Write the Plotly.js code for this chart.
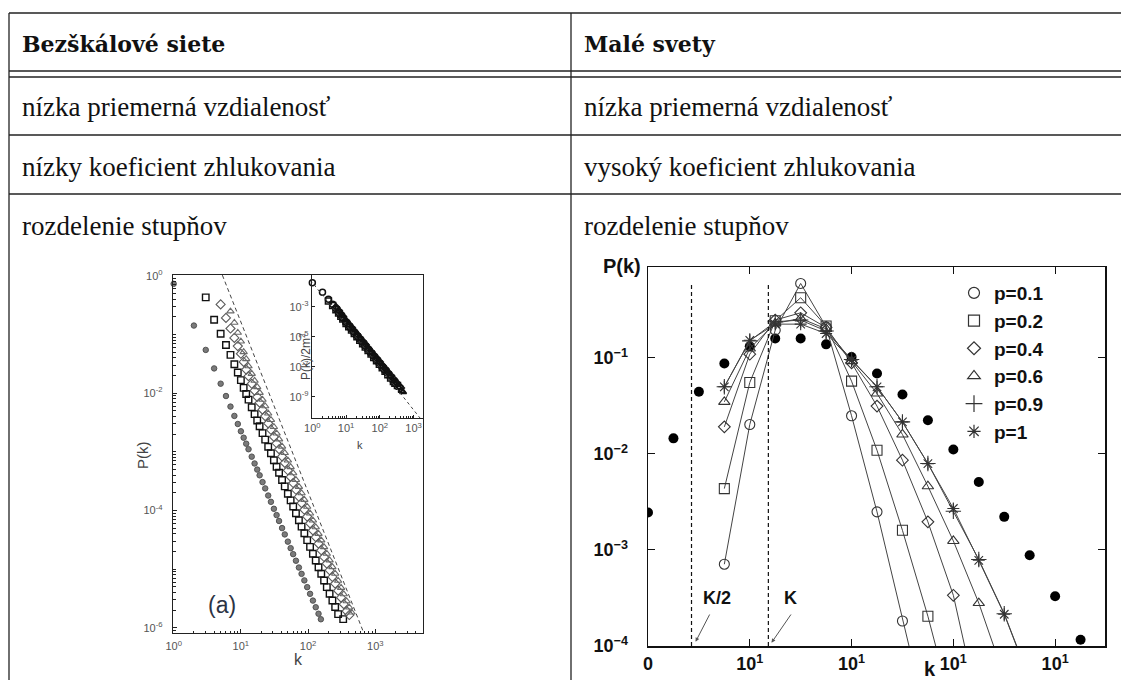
<!DOCTYPE html>
<html><head><meta charset="utf-8">
<script src="https://cdn.plot.ly/plotly-3.0.1.min.js"></script>
<style>html,body{margin:0;padding:0;background:#fff;}#chart{width:1121px;height:680px;}</style>
</head><body><div id="chart"></div>
<script>
// ---------- table texts ----------
const headers = ['Bezškálové siete', 'Malé svety'];
const rowsLeft = ['nízka priemerná vzdialenosť', 'nízky koeficient zhlukovania', 'rozdelenie stupňov'];
const rowsRight = ['nízka priemerná vzdialenosť', 'vysoký koeficient zhlukovania', 'rozdelenie stupňov'];

// ---------- left chart (scale-free), log10 P(k) ----------
const sfK_m1 = [1,2,3,4,5,6,7,8,9,10,11,12,13,14.5,16,17.5,19,21,23,25.5,28,31,34,37,41,45,50,55,60,66,73,80,88,97,107,118,130,143,155];
const sfLogP_m1 = [-0.14,-0.85,-1.265,-1.58,-1.84,-2.05,-2.23,-2.389,-2.526,-2.650,-2.760,-2.862,-2.956,-3.083,-3.199,-3.303,-3.400,-3.516,-3.623,-3.745,-3.852,-3.971,-4.078,-4.178,-4.299,-4.407,-4.530,-4.641,-4.743,-4.855,-4.971,-5.079,-5.190,-5.305,-5.419,-5.534,-5.647,-5.758,-5.852];
const sfK_m3 = [3,4,5,6,7,8,9,10,11,12,13,14.5,16,17.5,19,21,23,25.5,28,31,34,37,41,45,50,55,60,66,73,80,88,97,107,118,130,143,157,173,190,209,230,253,280,333];
const sfLogP_m3 = [-0.37,-0.75,-0.99,-1.18,-1.35,-1.51,-1.65,-1.78,-1.912,-2.016,-2.112,-2.241,-2.359,-2.466,-2.564,-2.682,-2.792,-2.915,-3.025,-3.145,-3.255,-3.356,-3.480,-3.589,-3.715,-3.828,-3.932,-4.047,-4.165,-4.274,-4.387,-4.504,-4.619,-4.737,-4.852,-4.965,-5.077,-5.192,-5.304,-5.417,-5.532,-5.644,-5.765,-5.85];
const sfK_m5 = [5,6,7,8,9,10,11,12,13,14.5,16,17.5,19,21,23,25.5,28,31,34,37,41,45,50,55,60,66,73,80,88,97,107,118,130,143,157,173,190,209,230,253,280,310,340,375,410];
const sfLogP_m5 = [-0.49,-0.72,-0.90,-1.06,-1.20,-1.33,-1.47,-1.60,-1.712,-1.841,-1.959,-2.066,-2.164,-2.282,-2.392,-2.515,-2.625,-2.745,-2.855,-2.956,-3.080,-3.189,-3.315,-3.428,-3.532,-3.647,-3.765,-3.874,-3.987,-4.104,-4.219,-4.337,-4.452,-4.565,-4.677,-4.792,-4.904,-5.017,-5.132,-5.244,-5.365,-5.485,-5.595,-5.713,-5.78];
const sfK_m7 = [7,8,9,10,11,12,13,14.5,16,17.5,19,21,23,25.5,28,31,34,37,41,45,50,55,60,66,73,80,88,97,107,118,130,143,157,173,190,209,230,253,280,310,340,375,410,443];
const sfLogP_m7 = [-0.607,-0.80,-0.97,-1.12,-1.30,-1.42,-1.542,-1.671,-1.789,-1.896,-1.994,-2.112,-2.222,-2.345,-2.455,-2.575,-2.685,-2.786,-2.910,-3.019,-3.145,-3.258,-3.362,-3.477,-3.595,-3.704,-3.817,-3.934,-4.049,-4.167,-4.282,-4.395,-4.507,-4.622,-4.734,-4.847,-4.962,-5.074,-5.195,-5.315,-5.425,-5.543,-5.649,-5.735];
const sfGuideK = [5.3, 690];
const sfGuideP = [1.02, 7.7e-7];

// inset: P(k)/2m^2
const inK_m1 = [1,2,3,4,5,6,7,8,10,12,14.5,17.5,21,25.5,31,37,45,55,66,80,97,118,143,155];
const inLogP_m1 = [-1.40,-2.04,-2.51,-2.84,-3.12,-3.35,-3.56,-3.75,-4.04,-4.26,-4.48,-4.71,-4.93,-5.16,-5.39,-5.60,-5.84,-6.08,-6.30,-6.52,-6.75,-6.99,-7.22,-7.31];
const inK_m3 = [3,4,5,6,7,8,10,12,14.5,17.5,21,25.5,31,37,45,55,66,80,97,118,143,173,209,253,280,333];
const inLogP_m3 = [-2.62,-2.93,-3.20,-3.43,-3.64,-3.83,-4.12,-4.34,-4.56,-4.79,-5.01,-5.24,-5.47,-5.68,-5.92,-6.16,-6.38,-6.60,-6.83,-7.07,-7.30,-7.53,-7.75,-7.98,-8.10,-8.25];
const inK_m5 = [5,6,7,8,10,12,14.5,17.5,21,25.5,31,37,45,55,66,80,97,118,143,173,209,253,310,375,410];
const inLogP_m5 = [-3.06,-3.29,-3.50,-3.69,-3.98,-4.20,-4.42,-4.65,-4.87,-5.10,-5.33,-5.54,-5.78,-6.02,-6.24,-6.46,-6.69,-6.93,-7.16,-7.385,-7.61,-7.84,-8.08,-8.31,-8.42];
const inK_m7 = [7,8,10,12,14.5,17.5,21,25.5,31,37,45,55,66,80,97,118,143,173,209,253,310,375,443,490];
const inLogP_m7 = [-3.59,-3.78,-4.07,-4.29,-4.51,-4.74,-4.96,-5.19,-5.42,-5.63,-5.87,-6.11,-6.33,-6.55,-6.78,-7.02,-7.25,-7.475,-7.70,-7.93,-8.17,-8.40,-8.60,-8.69];
const inGuideK = [0.87, 1585];
const inGuideP = [6.0e-2, 3.6e-11];

// ---------- right chart (small worlds) ----------
const swTickVals = [0, 4, 8, 12, 16];
const swTickText = ['0', '10<sup>1</sup>', '10<sup>1</sup>', '10<sup>1</sup>', '10<sup>1</sup>'];
const swYTickVals = [0.1, 0.01, 0.001, 0.0001];
const swYTickText = ['10<sup>−1</sup>', '10<sup>−2</sup>', '10<sup>−3</sup>', '10<sup>−4</sup>'];
const kRandom = [0,1,2,3,4,5,6,7,8,9,10,11,12,13,14,15,16,17];
const pRandom = [0.00245,0.0145,0.0443,0.0873,0.132,0.159,0.159,0.138,0.102,0.0687,0.0415,0.0224,0.0111,0.0051,0.00221,0.00088,0.000329,0.000116];
const k_p01 = [3,4,5,6,7,8,9,10,11];
const P_p01 = [7.1e-4,0.0202,0.194,0.594,0.21,0.0249,0.00249,1.82e-4,1.5e-5];
const k_p02 = [3,4,5,6,7,8,9,10,11,12];
const P_p02 = [4.35e-3,0.0553,0.243,0.422,0.214,0.0571,0.0109,1.6e-3,2.04e-4,2.0e-5];
const k_p04 = [3,4,5,6,7,8,9,10,11,12,13];
const P_p04 = [0.0191,0.109,0.247,0.294,0.207,0.0887,0.0314,8.59e-3,1.96e-3,3.37e-4,2.2e-5];
const k_p06 = [3,4,5,6,7,8,9,10,11,12,13,14];
const P_p06 = [0.0348,0.125,0.228,0.257,0.2,0.0923,0.0425,0.0159,4.6e-3,1.24e-3,2.8e-4,4.8e-5];
const k_p09 = [3,4,5,6,7,8,9,10,11,12,13,14,15];
const P_p09 = [0.0499,0.150,0.237,0.247,0.19,0.096,0.0499,0.0215,7.94e-3,2.53e-3,7.94e-4,2.17e-4,4.5e-5];
const k_p1 = [3,4,5,6,7,8,9,10,11,12,13,14,15];
const P_p1 = [0.0499,0.152,0.224,0.224,0.179,0.0946,0.0499,0.0215,7.9e-3,2.7e-3,7.8e-4,2.14e-4,4.4e-5];
const swNames = ['p=0.1','p=0.2','p=0.4','p=0.6','p=0.9','p=1'];
const markK_half = 1.71, markK = 4.73;

// ---------- helpers ----------
const W = 1121, H = 680;
const fx = p => p / W;
const fy = p => 1 - p / H;
const pow10 = a => a.map(v => Math.pow(10, v));
const SANS = 'Liberation Sans, Arial, sans-serif';
const SERIF = 'Liberation Serif, Times New Roman, serif';
const SERIF_B = 'DejaVu Serif, serif';

const traces = [];
// left main
function sfTrace(k, lp, symbol, size, color, lw, fill) {
  return {x: k, y: pow10(lp), xaxis: 'x', yaxis: 'y', mode: 'markers', cliponaxis: false,
    showlegend: false, hoverinfo: 'skip',
    marker: {symbol: symbol, size: size, color: fill || color, line: {color: color, width: lw}}};
}
traces.push(sfTrace(sfK_m1, sfLogP_m1, 'circle', 5.5, '#4a4a4a', 0.9, '#7a7a7a'));
traces.push(sfTrace(sfK_m3, sfLogP_m3, 'square-open', 6.5, '#111', 1.4));
traces.push(sfTrace(sfK_m5, sfLogP_m5, 'diamond-open', 7, '#5a5a5a', 1.1));
traces.push(sfTrace(sfK_m7, sfLogP_m7, 'triangle-up-open', 6.5, '#6a6a6a', 1.1));
traces.push({x: sfGuideK, y: sfGuideP, xaxis: 'x', yaxis: 'y', mode: 'lines', showlegend: false, hoverinfo: 'skip',
  line: {color: '#444', width: 1, dash: '4px,3px'}});
// inset
function inTrace(k, lp, symbol) {
  return {x: k, y: pow10(lp), xaxis: 'x2', yaxis: 'y2', mode: 'markers', cliponaxis: false,
    showlegend: false, hoverinfo: 'skip',
    marker: {symbol: symbol, size: 6, color: '#111', line: {color: '#111', width: 1.5}}};
}
traces.push(inTrace(inK_m1, inLogP_m1, 'circle-open'));
traces.push(inTrace(inK_m3, inLogP_m3, 'square-open'));
traces.push(inTrace(inK_m5, inLogP_m5, 'diamond-open'));
traces.push(inTrace(inK_m7, inLogP_m7, 'triangle-up-open'));
traces.push({x: inGuideK, y: inGuideP, xaxis: 'x2', yaxis: 'y2', mode: 'lines', showlegend: false, hoverinfo: 'skip',
  line: {color: '#444', width: 1, dash: '3px,3px'}});

// right
traces.push({x: kRandom, y: pRandom, xaxis: 'x3', yaxis: 'y3', mode: 'markers', showlegend: false, hoverinfo: 'skip',
  marker: {symbol: 'circle', size: 10, color: '#000'}});
const swK = [k_p01, k_p02, k_p04, k_p06, k_p09, k_p1];
const swP = [P_p01, P_p02, P_p04, P_p06, P_p09, P_p1];
const swSym = ['circle-open', 'square-open', 'diamond-open', 'triangle-up-open', 'cross-thin-open', 'asterisk-open'];
const swSize = [10, 10, 9, 10, 11, 10];
for (let i = 0; i < 6; i++) {
  traces.push({x: swK[i], y: swP[i], xaxis: 'x3', yaxis: 'y3', mode: 'lines+markers', showlegend: false, hoverinfo: 'skip',
    line: {color: '#444', width: 1},
    marker: {symbol: swSym[i], size: swSize[i], color: '#333', line: {color: '#333', width: 1.1}}});
}
for (let i = 0; i < 6; i++) {
  traces.push({x: [null], y: [null], xaxis: 'x3', yaxis: 'y3', mode: 'markers', name: '<b>' + swNames[i] + '</b>',
    hoverinfo: 'skip',
    marker: {symbol: swSym[i], size: swSize[i] + 1, color: '#333', line: {color: '#333', width: 1.2}}});
}

// ---------- table shapes ----------
const LINE = {color: '#222', width: 1.3};
const shapes = [];
function hline(y, w) { shapes.push({type: 'line', xref: 'paper', yref: 'paper', x0: fx(9), x1: 1, y0: fy(y), y1: fy(y), line: {color: '#222', width: w || 1.3}}); }
function vline(x) { shapes.push({type: 'line', xref: 'paper', yref: 'paper', x0: fx(x), x1: fx(x), y0: fy(13), y1: 0, line: LINE}); }
hline(13); hline(71); hline(77, 1.6); hline(135); hline(194);
vline(9); vline(571);
shapes.push({type: 'line', xref: 'x3', yref: 'y3 domain', x0: markK_half, x1: markK_half, y0: 0, y1: 0.96, line: {color: '#111', width: 1.2, dash: '4px,3px'}});
shapes.push({type: 'line', xref: 'x3', yref: 'y3 domain', x0: markK, x1: markK, y0: 0, y1: 0.96, line: {color: '#111', width: 1.2, dash: '4px,3px'}});

// ---------- annotations ----------
const ann = [];
function txt(t, x, y, size, opts) {
  ann.push(Object.assign({text: t, xref: 'paper', yref: 'paper', x: fx(x), y: fy(y), showarrow: false,
    xanchor: 'left', yanchor: 'middle', font: {family: SERIF, size: size, color: '#111'}}, opts || {}));
}
txt('<b>' + headers[0] + '</b>', 20, 44, 22, {font: {family: SERIF_B, size: 22, color: '#111'}});
txt('<b>' + headers[1] + '</b>', 582, 44, 22, {font: {family: SERIF_B, size: 22, color: '#111'}});
const rowY = [107, 167, 226];
for (let i = 0; i < 3; i++) { txt(rowsLeft[i], 20, rowY[i], 27); txt(rowsRight[i], 582, rowY[i], 27); }
// left chart labels
txt('P(k)', 143, 455, 15, {xanchor: 'center', textangle: -90, font: {family: SANS, size: 15, color: '#444'}});
txt('k', 298, 659, 16, {xanchor: 'center', font: {family: SANS, size: 16, color: '#444'}});
txt('(a)', 222, 605, 23, {xanchor: 'center', font: {family: SANS, size: 23, color: '#2b3344'}});
txt('P(k)/2m<sup>2</sup>', 305, 357, 12, {xanchor: 'center', textangle: -90, font: {family: SANS, size: 12, color: '#444'}});
txt('k', 360, 445, 11, {xanchor: 'center', font: {family: SANS, size: 11, color: '#444'}});
// right chart labels
txt('<b>P(k)</b>', 622, 266, 20, {xanchor: 'center', font: {family: SANS, size: 20, color: '#111'}});
txt('<b>k</b>', 930, 669, 20, {xanchor: 'center', font: {family: SANS, size: 20, color: '#111'}});
txt('<b>K/2</b>', 717, 598, 18, {xanchor: 'center', font: {family: SANS, size: 18, color: '#111'}});
txt('<b>K</b>', 790, 598, 18, {xanchor: 'center', font: {family: SANS, size: 18, color: '#111'}});
ann.push({text: '', xref: 'paper', yref: 'paper', x: fx(695.6), y: fy(641.7), ax: 14.8, ay: -28.7, showarrow: true,
  arrowhead: 2, arrowsize: 0.8, arrowwidth: 1, arrowcolor: '#555'});
ann.push({text: '', xref: 'paper', yref: 'paper', x: fx(771.5), y: fy(642.7), ax: 20.5, ay: -29.7, showarrow: true,
  arrowhead: 2, arrowsize: 0.8, arrowwidth: 1, arrowcolor: '#555'});

// ---------- axes ----------
const leftTickFont = {family: SANS, size: 11, color: '#555'};
function logAx(domain, range, tickvals, ticktext, anchor, extra) {
  return Object.assign({domain: domain, type: 'log', range: range, anchor: anchor, showgrid: false, zeroline: false,
    showline: true, linecolor: '#222', linewidth: 1.2, mirror: true, ticks: 'inside', ticklen: 4, tickcolor: '#222',
    tickmode: 'array', tickvals: tickvals, ticktext: ticktext, tickfont: leftTickFont}, extra || {});
}
const sup = a => a.map(e => '10<sup>' + e + '</sup>');
const layout = {
  width: W, height: H, margin: {l: 0, r: 0, t: 0, b: 0}, paper_bgcolor: '#fff', plot_bgcolor: 'rgba(0,0,0,0)',
  showlegend: true, hovermode: false,
  xaxis: logAx([fx(173), fx(423)], [-0.01, 3.71], [1, 10, 100, 1000], sup([0, 1, 2, 3]), 'y',
    {minor: {ticks: 'inside', ticklen: 2.5, dtick: 'D1', tickcolor: '#222'}, ticklabelstandoff: 3}),
  yaxis: logAx([fy(633), fy(275)], [-6.086, 0.011], [1, 1e-2, 1e-4, 1e-6], sup([0, -2, -4, -6]), 'x',
    {minor: {ticks: 'inside', ticklen: 2.5, dtick: 'D1', tickcolor: '#222'}, ticklabelstandoff: 7}),
  xaxis2: logAx([fx(312), fx(423)], [-0.01, 3.28], [1, 10, 100, 1000], sup([0, 1, 2, 3]), 'y2',
    {ticklen: 3, minor: {ticks: 'inside', ticklen: 2, dtick: 'D1', tickcolor: '#222'}}),
  yaxis2: logAx([fy(418), fy(275)], [-10.42, -0.89], [1e-3, 1e-5, 1e-7, 1e-9], sup([-3, -5, -7, -9]), 'x2',
    {ticklen: 3}),
  xaxis3: {domain: [fx(648), fx(1105)], range: [0, 17.96], anchor: 'y3', showgrid: false, zeroline: false,
    showline: true, linecolor: '#111', linewidth: 1.5, mirror: 'ticks', ticks: 'inside', ticklen: 7, tickcolor: '#111',
    tickmode: 'array', tickvals: swTickVals, ticktext: swTickText.map(t => '<b>' + t + '</b>'),
    tickfont: {family: SANS, size: 18, color: '#111'}, ticklabelstandoff: 1},
  yaxis3: {domain: [fy(646), fy(267)], type: 'log', range: [-4, -0.055], anchor: 'x3', showgrid: false, zeroline: false,
    showline: true, linecolor: '#111', linewidth: 1.5, mirror: 'ticks', ticks: 'inside', ticklen: 7, tickcolor: '#111',
    tickmode: 'array', tickvals: swYTickVals, ticktext: swYTickText.map(t => '<b>' + t + '</b>'),
    tickfont: {family: SANS, size: 18, color: '#111'}, ticklabelstandoff: 15},
  legend: {x: fx(954), y: fy(274), xanchor: 'left', yanchor: 'top', bgcolor: 'rgba(0,0,0,0)', borderwidth: 0,
    font: {family: SANS, size: 19, color: '#111'}, itemwidth: 30},
  shapes: shapes, annotations: ann
};
Plotly.newPlot('chart', traces, layout, {staticPlot: true, displayModeBar: false});
</script></body></html>
